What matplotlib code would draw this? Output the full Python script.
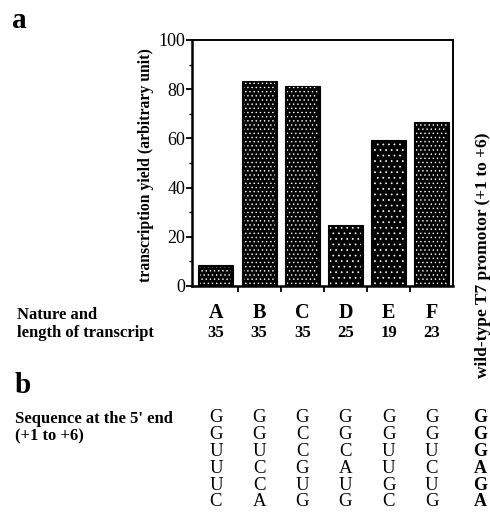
import matplotlib
matplotlib.use("Agg")

import matplotlib.pyplot as plt
from matplotlib.ticker import MultipleLocator
from matplotlib.transforms import blended_transform_factory

# ---------------------------------------------------------
# Data
# ---------------------------------------------------------
categories = ["A", "B", "C", "D", "E", "F"]
yield_values = [8.5, 83.5, 81.5, 25, 59.5, 66.5]
transcript_length = [35, 35, 35, 25, 19, 23]
sequences = ["GGUUUC", "GGUCCA", "GCCGUG", "GGCAUG", "GGUUGC", "GGUCUG"]
wt_sequence = "GGGAGA"
y_ticks = [0, 20, 40, 60, 80, 100]

W, H = 490, 512
SERIF = ["Liberation Serif", "DejaVu Serif"]
plt.rcParams["font.family"] = SERIF
plt.rcParams["hatch.linewidth"] = 0.5


def fx(px):
    return px / W


def fy(py):
    return 1 - py / H


fig = plt.figure(figsize=(W / 100, H / 100), dpi=100)
fig.patch.set_facecolor("white")

# bar chart box (pixel frame: x 192..453, y 40..286)
ax = fig.add_axes([fx(192), fy(286), fx(453) - fx(192), fy(40) - fy(286)])

x = list(range(len(categories)))
ax.bar(x, yield_values, width=0.81, color="black", edgecolor="black",
       linewidth=0.8, zorder=2)
# white stipple on top of the black bars
hatches = ["....", "....", "....", "...", "...", "...."]
for xi, v, h in zip(x, yield_values, hatches):
    ax.bar(xi, v - 1.2, width=0.72, bottom=0.6, color="none", edgecolor="white",
           hatch=h, linewidth=0, zorder=3)

ax.set_xlim(-0.554, 5.49)
ax.set_ylim(0, 100)
ax.set_xticks([0.5, 1.5, 2.5, 3.5, 4.5])
ax.set_xticklabels([])
ax.set_yticks(y_ticks)
ax.set_yticklabels([str(t) for t in y_ticks], fontsize=13)
ax.yaxis.set_minor_locator(MultipleLocator(10))
ax.tick_params(axis="y", which="major", direction="out", length=4, width=1.3, pad=1)
ax.tick_params(axis="y", which="minor", direction="out", length=2.5, width=1.0)
ax.tick_params(axis="x", which="major", direction="out", length=4, width=1.3)
for side in ("left", "bottom"):
    ax.spines[side].set_linewidth(1.8)
for side in ("top", "right"):
    ax.spines[side].set_linewidth(1.4)

fig.text(fx(146), fy(165), "transcription yield (arbitrary unit)",
         rotation=90, ha="center", va="center", fontsize=11.3, fontweight="bold")

fig.text(fx(483), fy(255), "wild-type T7 promotor (+1 to +6)",
         rotation=90, ha="center", va="center", fontsize=12.5, fontweight="bold")

# panel letters
fig.text(fx(12), fy(28), "a", fontsize=21, fontweight="bold", va="baseline")
fig.text(fx(15), fy(393), "b", fontsize=21, fontweight="bold", va="baseline")

# transcript labels under the bars
tr = blended_transform_factory(ax.transData, fig.transFigure)
fig.text(fx(17), fy(319), "Nature and", fontsize=12, fontweight="bold", va="baseline")
fig.text(fx(17), fy(337), "length of transcript", fontsize=12, fontweight="bold",
         va="baseline")
for xi, cat, n in zip(x, categories, transcript_length):
    ax.text(xi, fy(318), cat, transform=tr, ha="center", va="baseline",
            fontsize=14.5, fontweight="bold", clip_on=False)
    ax.text(xi, fy(337), str(n), transform=tr, ha="center", va="baseline",
            fontsize=12, fontweight="bold", clip_on=False)

# panel b: 5' sequences
fig.text(fx(15), fy(423), "Sequence at the 5' end", fontsize=12, fontweight="bold",
         va="baseline")
fig.text(fx(15), fy(440), "(+1 to +6)", fontsize=12, fontweight="bold", va="baseline")

row_y = [422 + 16.9 * i for i in range(6)]
for xi, seq in zip(x, sequences):
    for ch, ry in zip(seq, row_y):
        ax.text(xi, fy(ry), ch, transform=tr, ha="center", va="baseline",
                fontsize=13.5, clip_on=False)
for ch, ry in zip(wt_sequence, row_y):
    fig.text(fx(480), fy(ry), ch, ha="center", va="baseline", fontsize=13,
             fontweight="bold")

fig.savefig("out.png", dpi=100, facecolor="white")
